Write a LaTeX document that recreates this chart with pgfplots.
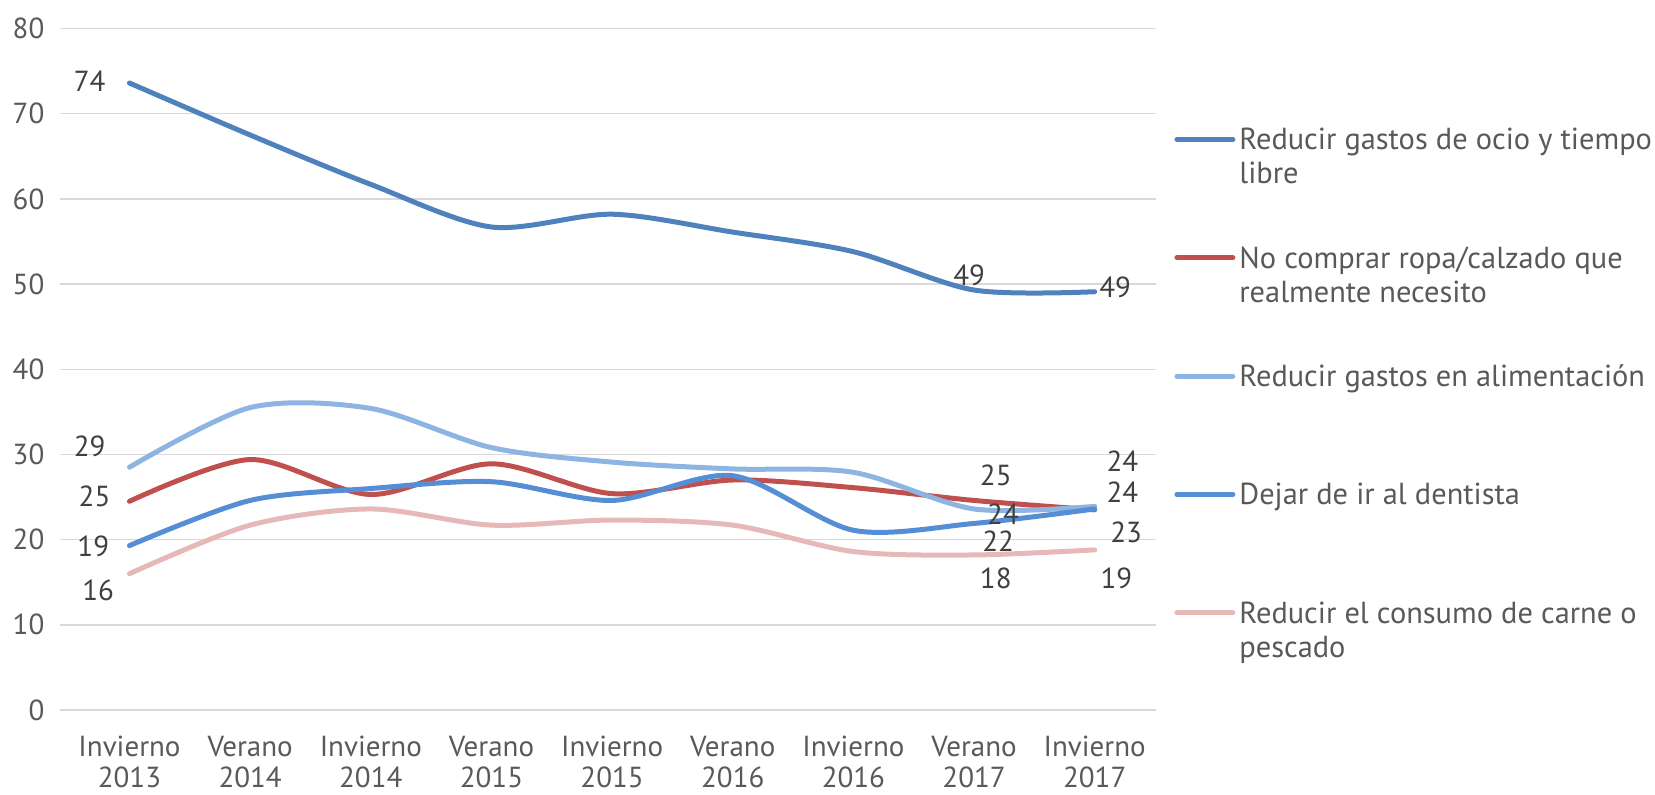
\documentclass[border=0pt]{standalone}
\usepackage{fontspec}
\setmainfont{PT Sans}
\usepackage{pgfplots}
\pgfplotsset{compat=1.18}
\definecolor{cOcio}{RGB}{79,129,189}
\definecolor{cRopa}{RGB}{192,80,77}
\definecolor{cAlim}{RGB}{141,180,226}
\definecolor{cDent}{RGB}{85,142,213}
\definecolor{cCarne}{RGB}{230,185,184}
\definecolor{gridgray}{RGB}{217,217,217}
\definecolor{tickgray}{RGB}{89,89,89}
\definecolor{textgray}{RGB}{64,64,64}
\newcommand{\lgd}[2]{\parbox[t]{250pt}{\strut #1\\\strut #2}}
\begin{document}
\begin{tikzpicture}
\begin{axis}[
  width=548pt, height=340.75pt, scale only axis,
  xmin=-0.576, xmax=8.508, ymin=0, ymax=80,
  xtick={0,1,2,3,4,5,6,7,8},
  xticklabels={{Invierno\\2013},{Verano\\2014},{Invierno\\2014},{Verano\\2015},{Invierno\\2015},{Verano\\2016},{Invierno\\2016},{Verano\\2017},{Invierno\\2017}},
  xticklabel style={align=center, font=\fontsize{14.5}{15.5}\selectfont, text=tickgray, yshift=-9.5pt},
  ytick={0,10,20,30,40,50,60,70,80},
  yticklabel style={font=\fontsize{14.5}{17}\selectfont, text=tickgray, xshift=-4.3pt},
  /pgf/number format/assume math mode=true,
  ymajorgrids, grid style={draw=gridgray, line width=0.75pt},
  axis line style={draw=none},
  major tick length=0pt,
  clip=false,
  every axis plot/.append style={line width=2.5pt, line cap=round, smooth, mark=none},
  legend image code/.code={\draw[#1] (0pt,5.2pt) -- (28pt,5.2pt);},
  legend cell align=left,
  legend style={draw=none, fill=none, at={(rel axis cs:1,1)}, anchor=north west,
    xshift=9pt, yshift=-48.5pt, inner sep=0pt, column sep=2pt, row sep=45.8pt,
    font=\fontsize{15.2}{17}\selectfont, text=tickgray,
    cells={anchor=base west}, nodes={inner sep=0pt}},
]
\addplot[color=cOcio] coordinates {(0,73.6)(1,67.5)(2,61.7)(3,56.7)(4,58.2)(5,56.1)(6,53.8)(7,49.3)(8,49.1)};
\addlegendentry{\lgd{Reducir gastos de ocio y tiempo}{libre}}
\addplot[color=cRopa] coordinates {(0,24.5)(1,29.4)(2,25.3)(3,28.9)(4,25.4)(5,27.0)(6,26.1)(7,24.6)(8,23.5)};
\addlegendentry{\lgd{No comprar ropa/calzado que}{realmente necesito}}
\addplot[color=cAlim] coordinates {(0,28.5)(1,35.5)(2,35.4)(3,30.8)(4,29.1)(5,28.3)(6,27.9)(7,23.6)(8,23.9)};
\addlegendentry{\lgd{Reducir gastos en alimentación}{}}
\addplot[color=cDent] coordinates {(0,19.3)(1,24.6)(2,26.0)(3,26.8)(4,24.6)(5,27.5)(6,21.1)(7,21.9)(8,23.6)};
\addlegendentry{\lgd{Dejar de ir al dentista}{}}
\addplot[color=cCarne] coordinates {(0,16.0)(1,21.7)(2,23.6)(3,21.7)(4,22.3)(5,21.7)(6,18.6)(7,18.2)(8,18.8)};
\addlegendentry{\lgd{Reducir el consumo de carne o}{pescado}}
\begin{scope}[every node/.style={font=\fontsize{14.5}{17}\selectfont, text=textgray}]
\node at (axis cs:-0.33,73.8) {74};
\node at (axis cs:-0.33,31.0) {29};
\node at (axis cs:-0.29,25.1) {25};
\node at (axis cs:-0.30,19.2) {19};
\node at (axis cs:-0.26,14.0) {16};
\node at (axis cs:6.96,51.0) {49};
\node at (axis cs:7.18,27.5) {25};
\node at (axis cs:7.24,23.0) {24};
\node at (axis cs:7.20,19.8) {22};
\node at (axis cs:7.18,15.4) {18};
\node at (axis cs:8.17,49.6) {49};
\node at (axis cs:8.23,29.2) {24};
\node at (axis cs:8.23,25.6) {24};
\node at (axis cs:8.26,20.8) {23};
\node at (axis cs:8.18,15.4) {19};
\end{scope}
\coordinate (bl) at (rel axis cs:0,0);
\end{axis}
\pgfresetboundingbox
\path (bl) ++(-30pt,-42pt) rectangle ++(827.5pt,397pt);
\end{tikzpicture}
\end{document}
